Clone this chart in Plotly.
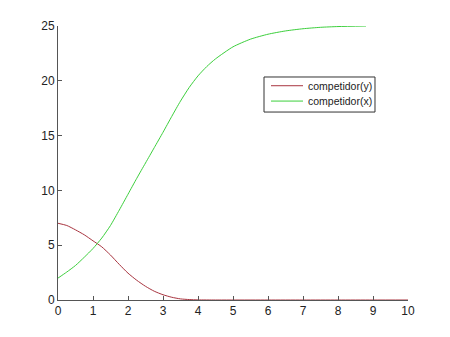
import plotly.graph_objects as go

t_y = [0, 0.25, 0.5, 0.75, 1.0, 1.25, 1.5, 1.75, 2.0, 2.25, 2.5, 2.75, 3.0, 3.25, 3.5, 3.75, 4.0, 4.5, 5, 6, 7, 8, 9, 10]
comp_y = [7.0, 6.8, 6.4, 5.95, 5.4, 4.85, 4.1, 3.25, 2.45, 1.8, 1.25, 0.8, 0.48, 0.25, 0.1, 0.04, 0.01, 0.0, 0.0, 0.0, 0.0, 0.0, 0.0, 0.0]

t_x = [0, 0.25, 0.5, 0.75, 1.0, 1.25, 1.5, 1.75, 2.0, 2.25, 2.5, 2.75, 3.0, 3.25, 3.5, 3.75, 4.0, 4.25, 4.5, 5.0, 5.5, 6.0, 6.5, 7.0, 7.5, 8.0, 8.8]
comp_x = [2.0, 2.55, 3.15, 3.9, 4.7, 5.65, 6.8, 8.2, 9.65, 11.1, 12.5, 13.9, 15.3, 16.75, 18.15, 19.4, 20.45, 21.3, 22.0, 23.1, 23.8, 24.25, 24.55, 24.75, 24.88, 24.95, 25.0]

series_names = ["competidor(y)", "competidor(x)"]
series_colors = ["#a8343f", "#3ccf3c"]

x_ticks = list(range(0, 11))
y_ticks = [0, 5, 10, 15, 20, 25]

fig = go.Figure()
fig.add_trace(go.Scatter(x=t_y, y=comp_y, mode="lines", name=series_names[0],
                         line=dict(color=series_colors[0], width=1, shape="spline", smoothing=0.6)))
fig.add_trace(go.Scatter(x=t_x, y=comp_x, mode="lines", name=series_names[1],
                         line=dict(color=series_colors[1], width=1, shape="spline", smoothing=0.6)))

# MATLAB-style compact legend box
box = dict(x0=0.5886, x1=0.9057, y0=0.686, y1=0.8139)
fig.add_shape(type="rect", xref="paper", yref="paper", **box,
              line=dict(color="#333", width=1), fillcolor="white", layer="above")
entry_y = [0.782, 0.726]
for name, color, yy in zip(series_names, series_colors, entry_y):
    fig.add_shape(type="line", xref="paper", yref="paper", x0=0.6086, x1=0.70, y0=yy, y1=yy,
                  line=dict(color=color, width=1), layer="above")
    fig.add_annotation(xref="paper", yref="paper", x=0.708, y=yy, text=name,
                       showarrow=False, xanchor="left", yanchor="middle",
                       font=dict(family="Liberation Sans, Arial, sans-serif", size=10.5, color="#222"))

axis_font = dict(family="Liberation Sans, Arial, sans-serif", size=12, color="#222")
fig.update_layout(
    width=450, height=337,
    margin=dict(l=58, r=42, t=26, b=37),
    paper_bgcolor="white", plot_bgcolor="white",
    font=axis_font,
    showlegend=False,
    xaxis=dict(range=[0, 10], tickvals=x_ticks, ticks="inside", ticklen=4,
               showline=True, linecolor="#555", linewidth=1, tickcolor="#555",
               showgrid=False, zeroline=False, tickfont=axis_font),
    yaxis=dict(range=[0, 25], tickvals=y_ticks, ticks="inside", ticklen=4,
               showline=True, linecolor="#555", linewidth=1, tickcolor="#555",
               showgrid=False, zeroline=False, tickfont=axis_font),
)

fig.write_html("out.html")
